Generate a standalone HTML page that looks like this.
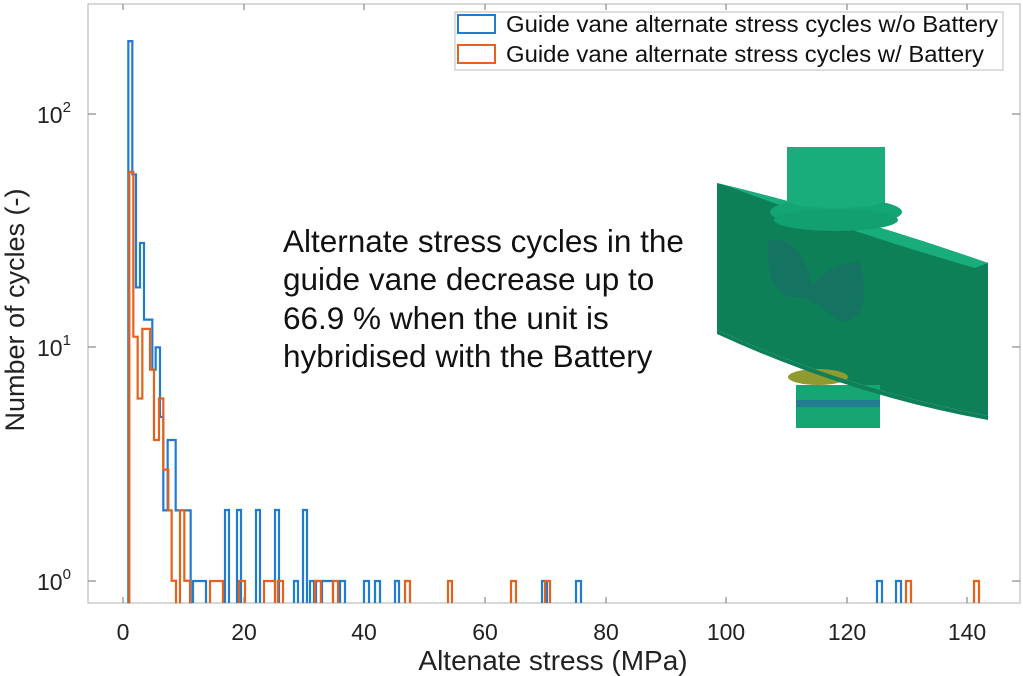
<!DOCTYPE html>
<html><head><meta charset="utf-8"><style>
html,body{margin:0;padding:0;background:#fff;}
svg{display:block;font-family:"Liberation Sans",sans-serif;}
</style></head><body>
<svg width="1023" height="676" viewBox="0 0 1023 676" xmlns="http://www.w3.org/2000/svg">
<rect width="1023" height="676" fill="#fff"/>
<rect x="88" y="4" width="932" height="599" fill="none" stroke="#bdbdbd" stroke-width="1.2"/>
<g stroke="#888" stroke-width="1.2">
<line x1="123" y1="603" x2="123" y2="597"/><line x1="244" y1="603" x2="244" y2="597"/>
<line x1="364" y1="603" x2="364" y2="597"/><line x1="485" y1="603" x2="485" y2="597"/>
<line x1="606" y1="603" x2="606" y2="597"/><line x1="726" y1="603" x2="726" y2="597"/>
<line x1="847" y1="603" x2="847" y2="597"/><line x1="967" y1="603" x2="967" y2="597"/>
<line x1="123" y1="4" x2="123" y2="10"/><line x1="244" y1="4" x2="244" y2="10"/>
<line x1="364" y1="4" x2="364" y2="10"/><line x1="485" y1="4" x2="485" y2="10"/>
<line x1="606" y1="4" x2="606" y2="10"/><line x1="726" y1="4" x2="726" y2="10"/>
<line x1="847" y1="4" x2="847" y2="10"/><line x1="967" y1="4" x2="967" y2="10"/>
<line x1="88" y1="114" x2="96" y2="114"/><line x1="88" y1="347" x2="96" y2="347"/><line x1="88" y1="581" x2="96" y2="581"/>
<line x1="1020" y1="114" x2="1012" y2="114"/><line x1="1020" y1="347" x2="1012" y2="347"/><line x1="1020" y1="581" x2="1012" y2="581"/>
</g>
<g font-size="23" fill="#222" text-anchor="middle">
<text x="123" y="640">0</text><text x="244" y="640">20</text><text x="364" y="640">40</text>
<text x="485" y="640">60</text><text x="606" y="640">80</text><text x="726" y="640">100</text>
<text x="847" y="640">120</text><text x="967" y="640">140</text>
</g>
<g font-size="23" fill="#222">
<text x="37" y="123">10<tspan font-size="15" dy="-11">2</tspan></text>
<text x="37" y="356">10<tspan font-size="15" dy="-11">1</tspan></text>
<text x="37" y="590">10<tspan font-size="15" dy="-11">0</tspan></text>
</g>
<text x="553" y="670" font-size="28" fill="#222" text-anchor="middle">Altenate stress (MPa)</text>
<text transform="translate(24,310) rotate(-90)" font-size="27" fill="#222" text-anchor="middle">Number of cycles (-)</text>

<g>
<rect x="787" y="147" width="98" height="60" fill="#19ad7c"/>
<path d="M717,183 Q850,215 988,263 L988,416 Q850,390 717,330 Z" fill="#0d8058"/>
<path d="M717,183 Q850,215 988,263 L975,268 Q850,232 730,187 Z" fill="#19ad7c"/>
<ellipse cx="836" cy="212" rx="66" ry="14" fill="#14a574"/>
<ellipse cx="836" cy="220" rx="62" ry="11" fill="#12a070"/>
<ellipse cx="836" cy="200" rx="49" ry="8" fill="#19ad7c"/>
<path d="M768,240 Q800,235 812,285 Q835,260 860,262 Q875,320 840,322 Q815,300 800,297 Q765,300 768,240 Z" fill="#1a6a68" opacity="0.6"/>
<rect x="796" y="385" width="84" height="43" fill="#15a672"/>
<rect x="796" y="400" width="84" height="7" fill="#2b62a8" opacity="0.6"/>
<ellipse cx="818" cy="377" rx="30" ry="8" fill="#8f9a30"/>
<path d="M717,330 Q850,390 988,416 L988,420 Q850,395 717,334 Z" fill="#0d8058"/>
</g>

<text font-size="31.5" fill="#111">
<tspan x="283" y="252">Alternate stress cycles in the</tspan>
<tspan x="283" y="290">guide vane decrease up to</tspan>
<tspan x="283" y="329">66.9 % when the unit is</tspan>
<tspan x="283" y="367">hybridised with the  Battery</tspan>
</text>

<g fill="none" stroke="#1f7ccf" stroke-width="2.2">
<g transform="translate(100,30) scale(0.33333,0.37037)">
<path vector-effect="non-scaling-stroke" d="M85,1548 V30 H97 V390 H108 V695 H120 V575 H132 V782 H157 V917 H167 V857 H180 V1045 H190 V1297 H203 V1107 H227 V1297 H272 V1548"/>
</g>
<path d="M193,603V581H206V603 M225,603V510H229V603 M237,603V510H241V603 M256,603V510H260V603 M275,603V510H279V603 M303,603V510H307V603 M294,603V581H298V603 M310,603V581H314V603 M316,603V581H321V603 M322,603V581H333V603 M340,603V581H345V603 M364,603V581H369V603 M375,603V581H380V603 M395,603V581H399V603 M542,603V581H547V603 M576,603V581H581V603 M877,603V581H882V603 M896,603V581H901V603"/>
</g>
<g fill="none" stroke="#e4621c" stroke-width="2.2">
<g transform="translate(100,30) scale(0.33333,0.37037)">
<path vector-effect="non-scaling-stroke" d="M88,1548 V383 H100 V828 H113 V995 H127 V807 H150 V917 H162 V1107 H177 V995 H190 V1187 H205 V1297 H215 V1487 H228 V1548 M240,1548 V1297 H253 V1487 H270 V1548"/>
</g>
<path d="M210,603V581H223V603 M239,603V581H245V603 M264,603V581H275V603 M278,603V581H283V603 M315,603V581H321V603 M333,603V581H338V603 M405,603V581H410V603 M448,603V581H452V603 M511,603V581H516V603 M545,603V581H550V603 M906,603V581H911V603 M974,603V581H979V603"/>
</g>

<rect x="455" y="12" width="548" height="58" fill="#fff" stroke="#bdbdbd" stroke-width="1"/>
<rect x="458" y="15" width="37" height="18" fill="none" stroke="#1f7ccf" stroke-width="2"/>
<rect x="458" y="45" width="37" height="18" fill="none" stroke="#e4621c" stroke-width="2"/>
<text x="506" y="32" font-size="23" fill="#111" textLength="492" lengthAdjust="spacingAndGlyphs">Guide vane alternate stress cycles w/o Battery</text>
<text x="506" y="62" font-size="23" fill="#111" textLength="478" lengthAdjust="spacingAndGlyphs">Guide vane alternate stress cycles w/ Battery</text>
</svg>
</body></html>
